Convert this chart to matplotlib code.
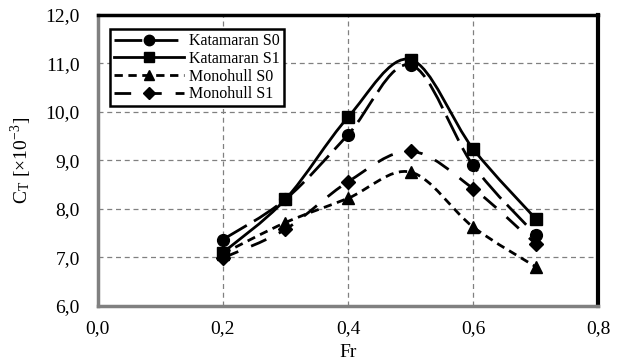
import matplotlib.pyplot as plt
import numpy as np
from matplotlib.path import Path
from matplotlib.patches import PathPatch
from matplotlib.lines import Line2D
from matplotlib.ticker import FuncFormatter

plt.rcParams['font.family'] = ['Liberation Serif', 'DejaVu Serif']
plt.rcParams['mathtext.fontset'] = 'stix'

# Data
fr = [0.2, 0.3, 0.4, 0.5, 0.6, 0.7]
kat_s0 = [7.37, 8.20, 9.53, 10.97, 8.90, 7.47]
kat_s1 = [7.10, 8.20, 9.89, 11.08, 9.24, 7.80]
mono_s0 = [7.08, 7.72, 8.22, 8.76, 7.63, 6.81]
mono_s1 = [6.99, 7.58, 8.56, 9.19, 8.42, 7.28]

series = [
    ("Katamaran S0", kat_s0, 'o', (0, (10, 3))),
    ("Katamaran S1", kat_s1, 's', '-'),
    ("Monohull S0", mono_s0, '^', (0, (3, 2))),
    ("Monohull S1", mono_s1, 'D', (0, (6, 5))),
]


def smooth_path(x, y):
    # Excel-like smoothed line: cubic Bezier through the points
    pts = np.column_stack([x, y])
    n = len(pts)
    verts = [pts[0]]
    codes = [Path.MOVETO]
    for i in range(n - 1):
        p0 = pts[i - 1] if i > 0 else pts[i]
        p1 = pts[i]
        p2 = pts[i + 1]
        p3 = pts[i + 2] if i + 2 < n else pts[i + 1]
        c1 = p1 + (p2 - p0) / 6.0
        c2 = p2 - (p3 - p1) / 6.0
        verts += [c1, c2, p2]
        codes += [Path.CURVE4] * 3
    return Path(verts, codes)


fig = plt.figure(figsize=(6.27, 3.63), dpi=100)
ax = fig.add_axes([0.156, 0.157, 0.798, 0.802])

handles = []
for name, vals, mk, ls in series:
    ms = 8.5 if mk != 'D' else 7.5
    patch = PathPatch(smooth_path(fr, vals), facecolor='none', edgecolor='black',
                      lw=2.0, linestyle=ls, zorder=3)
    ax.add_patch(patch)
    ax.plot(fr, vals, linestyle='none', marker=mk, color='black',
            markersize=ms, zorder=4)
    handles.append(Line2D([], [], color='black', lw=2.0, linestyle=ls,
                          marker=mk, markersize=ms - 1))

ax.set_xlim(0, 0.8)
ax.set_ylim(6, 12)
ax.set_xticks(np.arange(0, 0.81, 0.2))
ax.set_yticks(np.arange(6, 12.01, 1))
ax.xaxis.set_major_formatter(FuncFormatter(lambda v, p: f"{v:.1f}".replace('.', ',')))
ax.yaxis.set_major_formatter(FuncFormatter(lambda v, p: f"{v:.1f}".replace('.', ',')))
ax.tick_params(labelsize=14, length=0)
ax.tick_params(axis='y', pad=13)
ax.tick_params(axis='x', pad=10)
ax.grid(True, color='#808080', linestyle=(0, (4, 3)), lw=0.9)

ax.spines['left'].set_color('#808080')
ax.spines['bottom'].set_color('#808080')
ax.spines['left'].set_linewidth(2.5)
ax.spines['bottom'].set_linewidth(2.5)
ax.spines['top'].set_linewidth(2.5)
ax.spines['right'].set_linewidth(3)

ax.set_xlabel('Fr', fontsize=14, labelpad=5)
ax.set_ylabel(r'C$_\mathregular{T}$ [×10$^\mathregular{-3}$]', fontsize=14, labelpad=8)

leg = ax.legend(handles=handles, labels=[s[0] for s in series],
                loc='upper left', bbox_to_anchor=(0.024, 0.95), borderaxespad=0,
                prop={'family': 'Liberation Serif', 'size': 11.5},
                handlelength=4.4, handletextpad=0.3,
                borderpad=0.25, labelspacing=0.1, fancybox=False, framealpha=1)
leg.get_frame().set_edgecolor('black')
leg.get_frame().set_linewidth(1.8)

plt.savefig('out.png', dpi=100)
